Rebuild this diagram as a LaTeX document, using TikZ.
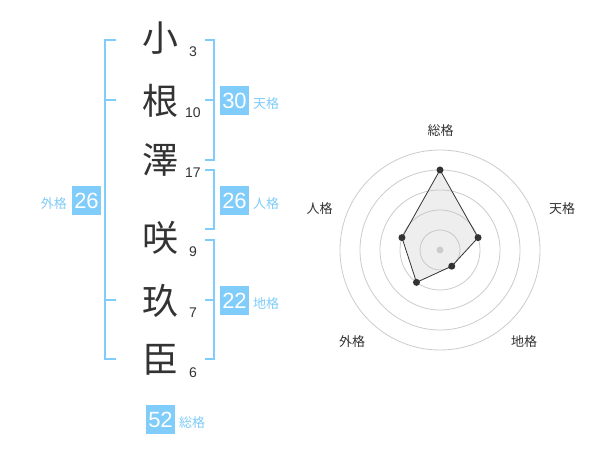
\documentclass[tikz,border=0pt]{standalone}
\usepackage{fontspec}
\usetikzlibrary{calc}
\setmainfont{Liberation Sans}
\newfontfamily\cjk{Noto Sans CJK JP}
\definecolor{blu}{RGB}{128,204,250}
\definecolor{ink}{RGB}{51,51,51}
\definecolor{ringc}{RGB}{204,204,204}
\definecolor{polyfill}{RGB}{190,190,190}
\begin{document}
\begin{tikzpicture}[x=1pt,y=-1pt,
 kanji/.style={font=\cjk\fontsize{36}{36}\selectfont, text=ink, inner sep=0},
 strk/.style={font=\fontsize{14}{14}\selectfont, text=ink, inner sep=0},
 numbox/.style={fill=blu, text=white, minimum size=29pt, inner sep=0, font=\fontsize{22}{22}\selectfont},
 kaku/.style={font=\cjk\fontsize{13}{13}\selectfont, text=blu, inner sep=0},
 bracket/.style={draw=blu, line width=2pt},
 ring/.style={draw=ringc, line width=0.8pt},
 axlabel/.style={font=\cjk\fontsize{13}{13}\selectfont, text=ink, inner sep=0},
 dot/.style={circle, fill=ink, inner sep=0, minimum size=7pt},
]
\useasboundingbox[fill=white] (0,0) rectangle (600,470);

% characters
\node[kanji] (c1) at (160,38) {小};
\node[kanji] (c2) at (160,101) {根};
\node[kanji] (c3) at (160,160) {澤};
\node[kanji] (c4) at (160,238) {咲};
\node[kanji] (c5) at (160,301) {玖};
\node[kanji] (c6) at (160,360) {臣};
% stroke counts
\node[strk] (n1) at (193,52) {3};
\node[strk] (n2) at (193,112.5) {10};
\node[strk] (n3) at (193,172.5) {17};
\node[strk] (n4) at (193,252) {9};
\node[strk] (n5) at (193,312.5) {7};
\node[strk] (n6) at (193,372.5) {6};

% brackets
\draw[bracket] (116,40) -- (105,40) -- (105,359) -- (116,359);
\draw[bracket] (105,100) -- (116,100);
\draw[bracket] (105,300) -- (116,300);
\draw[bracket] (205,40) -- (214,40) -- (214,160) -- (205,160);
\draw[bracket] (214,100) -- (205,100);
\draw[bracket] (205,170) -- (214,170) -- (214,229) -- (205,229);
\draw[bracket] (205,240) -- (214,240) -- (214,359) -- (205,359);
\draw[bracket] (214,300) -- (205,300);

% boxes
\node[numbox] (ten) at (234.5,100.5) {30};
\node[kaku, anchor=west] (tenl) at (253,104) {天格};
\node[numbox] (jin) at (234.5,200.5) {26};
\node[kaku, anchor=west] (jinl) at (253,204) {人格};
\node[numbox] (chi) at (234.5,300.5) {22};
\node[kaku, anchor=west] (chil) at (253,304) {地格};
\node[numbox] (gai) at (86.5,200.5) {26};
\node[kaku, anchor=east] (gail) at (67,204) {外格};
\node[numbox] (sou) at (160.5,419.5) {52};
\node[kaku, anchor=west] (soul) at (179,423) {総格};

% radar
\coordinate (R) at (440,250);
\foreach \r in {20,40,60,80,100} \draw[ring] (R) circle[radius=\r];
\coordinate (p1) at ($(R)+(-90:80)$);
\coordinate (p2) at ($(R)+(-18:40)$);
\coordinate (p3) at ($(R)+(54:20)$);
\coordinate (p4) at ($(R)+(126:40)$);
\coordinate (p5) at ($(R)+(198:40)$);
\fill[polyfill, fill opacity=0.25] (p1) -- (p2) -- (p3) -- (p4) -- (p5) -- cycle;
\draw[ink, line width=0.8pt] (p1) -- (p2) -- (p3) -- (p4) -- (p5) -- cycle;
\node[circle, fill=ringc, inner sep=0, minimum size=7pt] (ctr) at (R) {};
\foreach \i in {1,...,5} \node[dot] (d\i) at (p\i) {};
\node[axlabel] (a1) at (440.5,130.5) {総格};
\node[axlabel] (a2) at (562,208.5) {天格};
\node[axlabel] (a3) at (524,342) {地格};
\node[axlabel] (a4) at (352,342) {外格};
\node[axlabel] (a5) at (319.5,208.5) {人格};
\end{tikzpicture}
\end{document}
